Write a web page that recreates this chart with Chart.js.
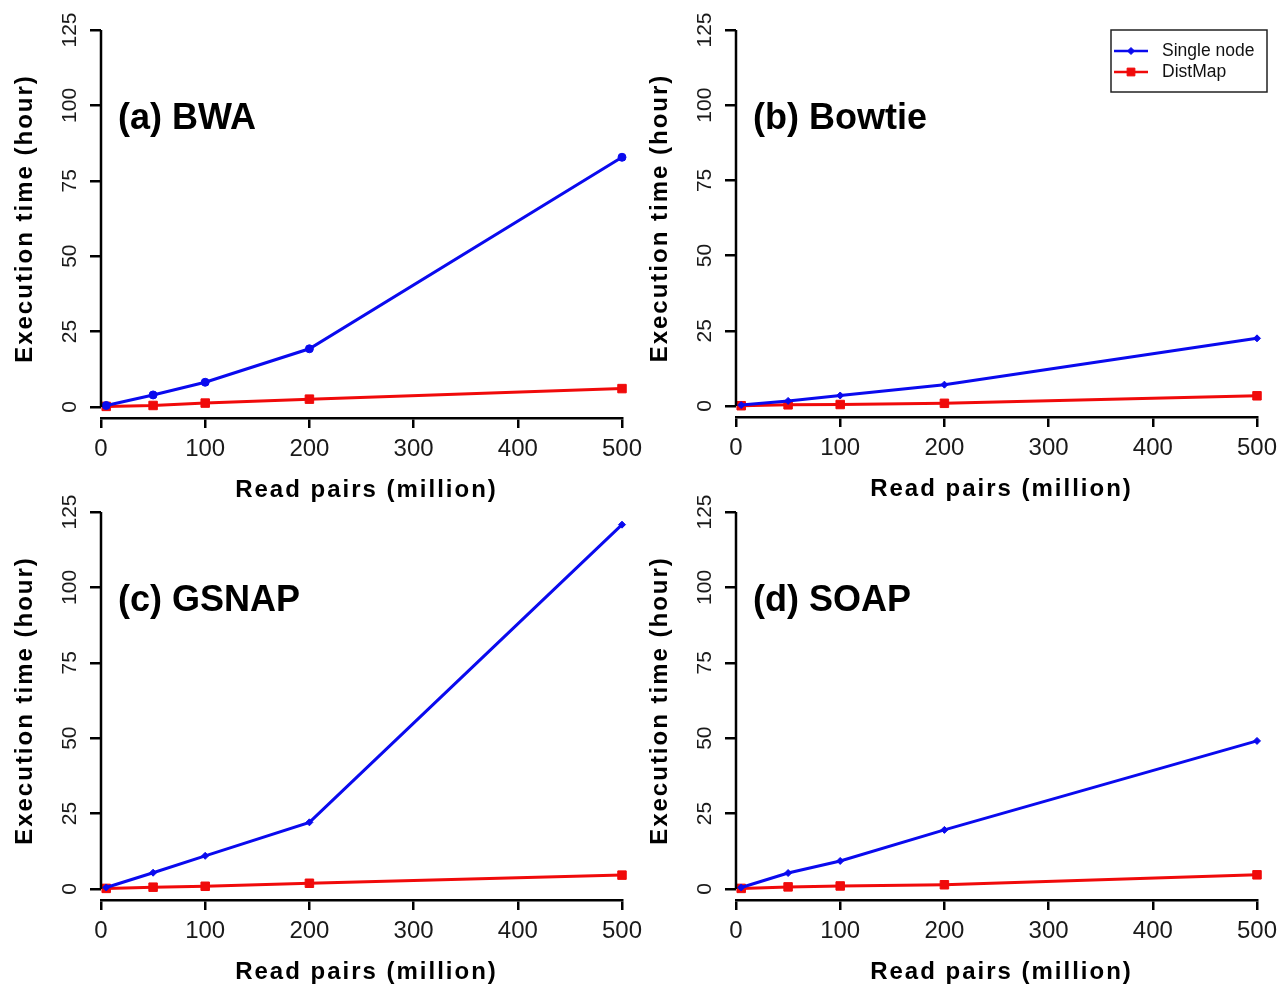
<!DOCTYPE html>
<html><head><meta charset="utf-8">
<script src="https://cdn.jsdelivr.net/npm/chart.js@4.4.1/dist/chart.umd.min.js"></script>
<style>
html,body{margin:0;padding:0;background:#fff;}
#wrap{position:relative;width:1288px;height:987px;overflow:hidden;background:#fff;}
#wrap canvas{position:absolute;left:0;top:0;}
</style></head><body>
<div id="wrap">
<canvas id="ca" width="1288" height="987"></canvas>
<canvas id="cb" width="1288" height="987"></canvas>
<canvas id="cc" width="1288" height="987"></canvas>
<canvas id="cd" width="1288" height="987"></canvas>
</div>
<script>
// ---- data ----
const readPairs = [5, 50, 100, 200, 500];
const bwaSingle = [0.5, 4.0, 8.2, 19.3, 82.8];
const bwaDist = [0.2, 0.5, 1.3, 2.6, 6.1];
const bowtieSingle = [0.3, 1.7, 3.5, 7.1, 22.5];
const bowtieDist = [0.1, 0.4, 0.5, 0.9, 3.4];
const gsnapSingle = [0.5, 5.4, 11.0, 22.1, 120.8];
const gsnapDist = [0.2, 0.6, 0.9, 1.9, 4.6];
const soapSingle = [0.5, 5.3, 9.3, 19.6, 49.1];
const soapDist = [0.2, 0.7, 1.0, 1.4, 4.7];
const xTicks = [0, 100, 200, 300, 400, 500];
const yTicks = [0, 25, 50, 75, 100, 125];
const seriesNames = ['Single node', 'DistMap'];
const panelTitles = ['(a) BWA', '(b) Bowtie', '(c) GSNAP', '(d) SOAP'];
const xTitle = 'Read pairs (million)';
const yTitle = 'Execution time (hour)';

// ---- styling / layout ----
const FONT = '"Liberation Sans", Arial, Helvetica, sans-serif';
const BLUE = '#0a0aee';
const RED = '#f00a0a';
const W = 1288, H = 987, YW = 70, XH = 60, YMIN = -3.65;

const panels = [
  {id: 'ca', title: panelTitles[0], single: bwaSingle, dist: bwaDist, area: {l: 101, r: 622, t: 30, b: 418}, blueStyle: 'circle', blueR: 4},
  {id: 'cb', title: panelTitles[1], single: bowtieSingle, dist: bowtieDist, area: {l: 736, r: 1257, t: 30, b: 417}, blueStyle: 'rectRot', blueR: 3.5, legend: true},
  {id: 'cc', title: panelTitles[2], single: gsnapSingle, dist: gsnapDist, area: {l: 101, r: 622, t: 512, b: 900}, blueStyle: 'rectRot', blueR: 3.5},
  {id: 'cd', title: panelTitles[3], single: soapSingle, dist: soapDist, area: {l: 736, r: 1257, t: 512, b: 900}, blueStyle: 'rectRot', blueR: 3.5}
];

function decorPlugin(p) {
  return {
    id: 'decor',
    afterDraw(chart) {
      const ctx = chart.ctx;
      const ca = chart.chartArea;
      const ys = chart.scales.y;
      const y0 = ys.getPixelForValue(yTicks[0]);
      const y1 = ys.getPixelForValue(yTicks[yTicks.length - 1]);
      ctx.save();
      // y axis line (R style, only between first and last tick)
      ctx.strokeStyle = '#000';
      ctx.lineWidth = 2.5;
      ctx.beginPath();
      ctx.moveTo(ca.left, y0);
      ctx.lineTo(ca.left, y1);
      ctx.stroke();
      // axis titles
      ctx.fillStyle = '#000';
      ctx.font = 'bold 24px ' + FONT;
      try { ctx.letterSpacing = '2px'; } catch (e) {}
      ctx.textAlign = 'center';
      ctx.textBaseline = 'middle';
      ctx.fillText(xTitle, (ca.left + ca.right) / 2 + 5, ca.bottom + 72);
      ctx.save();
      ctx.translate(ca.left - 76, (y0 + y1) / 2);
      ctx.rotate(-Math.PI / 2);
      ctx.fillText(yTitle, 0, 0);
      ctx.restore();
      try { ctx.letterSpacing = '0px'; } catch (e) {}
      // panel title
      ctx.font = 'bold 36px ' + FONT;
      ctx.textAlign = 'left';
      ctx.fillText(p.title, ca.left + 17, ca.top + 89);
      // legend
      if (p.legend) {
        const bx = 1111, by = 30, bw = 156, bh = 62;
        ctx.strokeStyle = '#222';
        ctx.lineWidth = 1.5;
        ctx.strokeRect(bx, by, bw, bh);
        const rows = [
          {ds: chart.data.datasets[0], y: by + 21},
          {ds: chart.data.datasets[1], y: by + 42}
        ];
        ctx.font = '17.5px ' + FONT;
        rows.forEach(r => {
          ctx.strokeStyle = r.ds.borderColor;
          ctx.lineWidth = 2.5;
          ctx.beginPath();
          ctx.moveTo(bx + 3, r.y);
          ctx.lineTo(bx + 37, r.y);
          ctx.stroke();
          ctx.fillStyle = r.ds.borderColor;
          ctx.strokeStyle = r.ds.borderColor;
          ctx.lineWidth = 1;
          Chart.helpers.drawPoint(ctx, {pointStyle: r.ds.pointStyle === 'rect' ? 'rect' : 'rectRot', radius: r.ds.pointStyle === 'rect' ? 5.5 : 3.5, borderWidth: 1, rotation: 0}, bx + 20, r.y);
          ctx.fillStyle = '#111';
          ctx.textAlign = 'left';
          ctx.textBaseline = 'middle';
          ctx.fillText(r.ds.label, bx + 51, r.y);
        });
      }
      ctx.restore();
    }
  };
}

panels.forEach(p => {
  const a = p.area;
  new Chart(document.getElementById(p.id), {
    type: 'line',
    data: {
      datasets: [
        {
          label: seriesNames[0],
          data: readPairs.map((x, i) => ({x: x, y: p.single[i]})),
          borderColor: BLUE, backgroundColor: BLUE,
          borderWidth: 3, tension: 0, clip: false,
          pointStyle: p.blueStyle, pointRadius: p.blueR,
          pointBackgroundColor: BLUE, pointBorderColor: BLUE, pointBorderWidth: 1
        },
        {
          label: seriesNames[1],
          data: readPairs.map((x, i) => ({x: x, y: p.dist[i]})),
          borderColor: RED, backgroundColor: RED,
          borderWidth: 3, tension: 0, clip: false,
          pointStyle: 'rect', pointRadius: 6,
          pointBackgroundColor: RED, pointBorderColor: RED, pointBorderWidth: 1
        }
      ]
    },
    options: {
      responsive: false,
      animation: false,
      devicePixelRatio: 1,
      events: [],
      layout: {padding: {left: a.l - YW, right: W - a.r, top: a.t, bottom: H - a.b - XH}},
      plugins: {legend: {display: false}, tooltip: {enabled: false}, title: {display: false}},
      scales: {
        x: {
          type: 'linear', min: xTicks[0], max: xTicks[xTicks.length - 1],
          afterBuildTicks: s => { s.ticks = xTicks.map(v => ({value: v})); },
          afterFit: s => { s.height = XH; },
          grid: {display: true, drawOnChartArea: false, drawTicks: true, tickLength: 10, tickWidth: 2.5, tickColor: '#000', color: '#000', lineWidth: 2.5},
          border: {display: true, color: '#000', width: 2.5},
          ticks: {font: {family: FONT, size: 24}, color: '#1a1a1a', padding: 7, maxRotation: 0, minRotation: 0, autoSkip: false}
        },
        y: {
          type: 'linear', min: YMIN, max: yTicks[yTicks.length - 1],
          afterBuildTicks: s => { s.ticks = yTicks.map(v => ({value: v})); },
          afterFit: s => { s.width = YW; },
          grid: {display: true, drawOnChartArea: false, drawTicks: true, tickLength: 11, tickWidth: 2.5, tickColor: '#000', color: '#000', lineWidth: 2.5},
          border: {display: false},
          ticks: {font: {family: FONT, size: 21}, color: '#1a1a1a', minRotation: 90, maxRotation: 90, crossAlign: 'center', padding: 2, autoSkip: false}
        }
      }
    },
    plugins: [decorPlugin(p)]
  });
});
</script>
</body></html>
